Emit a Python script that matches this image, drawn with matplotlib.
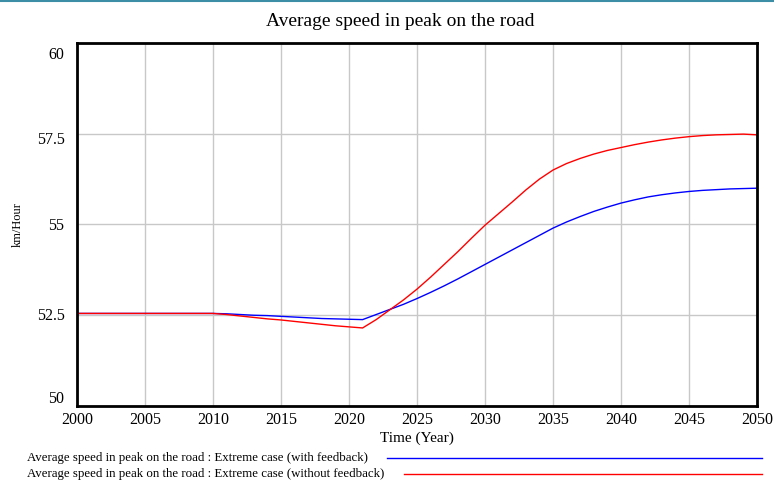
import matplotlib
matplotlib.use("Agg")
import matplotlib.pyplot as plt
from matplotlib.lines import Line2D
from matplotlib.transforms import ScaledTranslation

years = list(range(2000, 2051))
with_feedback = [52.55]*11 + [
    52.54, 52.52, 52.50, 52.49, 52.47, 52.45, 52.43, 52.41, 52.40, 52.39, 52.38,
    52.52, 52.66, 52.80, 52.96, 53.13, 53.31, 53.50, 53.70, 53.90,
    54.10, 54.30, 54.50, 54.70, 54.90, 55.07, 55.22, 55.36, 55.48, 55.59,
    55.68, 55.76, 55.82, 55.87, 55.91, 55.94, 55.96, 55.98, 55.99, 56.00]
without_feedback = [52.55]*11 + [
    52.52, 52.48, 52.44, 52.40, 52.37, 52.33, 52.29, 52.25, 52.21, 52.18, 52.15,
    52.38, 52.65, 52.92, 53.22, 53.55, 53.90, 54.25, 54.62, 54.98,
    55.30, 55.62, 55.95, 56.25, 56.50, 56.68, 56.82, 56.94, 57.04, 57.12,
    57.20, 57.27, 57.33, 57.38, 57.42, 57.45, 57.47, 57.48, 57.49, 57.47]

x_ticks = list(range(2000, 2051, 5))
y_ticks = [50, 52.5, 55, 57.5, 60]
y_tick_labels = ["50", "52.5", "55", "57.5", "60"]

title = "Average speed in peak on the road"
label_with = "Average speed in peak on the road : Extreme case (with feedback)"
label_without = "Average speed in peak on the road : Extreme case (without feedback)"

plt.rcParams['font.family'] = ['Liberation Serif', 'DejaVu Serif']

W, H = 774, 483
fig = plt.figure(figsize=(W/100, H/100), dpi=100)
ax = fig.add_axes([77/W, 1-406/H, 680/W, 363/H])

ax.plot(years, with_feedback, color='#0000ff', lw=1.0)
ax.plot(years, without_feedback, color='#ff0000', lw=1.0)

ax.set_xlim(2000, 2050)
ax.set_ylim(50, 60)
ax.set_xticks(x_ticks)
ax.set_yticks(y_ticks)
ax.set_yticklabels(y_tick_labels)
ax.tick_params(length=0, labelsize=11.5)
ax.tick_params(axis='y', pad=9)
ax.tick_params(axis='x', pad=4)
ax.grid(True, color='#c8c8c8', lw=1.0)
for s in ax.spines.values():
    s.set_linewidth(2)
    s.set_color('black')

# Vensim-style label placement: end labels pulled inward
y_offsets_px = [9, 1, 0, -4, -10]
for lab, dy in zip(ax.get_yticklabels(), y_offsets_px):
    lab.set_transform(lab.get_transform() + ScaledTranslation(0, dy/100, fig.dpi_scale_trans))

fig.text(400/W, 1-21/H, title, ha='center', va='center', fontsize=14)
fig.text(417/W, 1-438/H, "Time (Year)", ha='center', va='center', fontsize=11)
fig.text(18/W, 1-225/H, "km/Hour", ha='center', va='center', rotation=90, fontsize=9)

fig.text(27/W, 1-458/H, label_with, ha='left', va='center', fontsize=9.3)
fig.text(27/W, 1-474/H, label_without, ha='left', va='center', fontsize=9.3)
fig.add_artist(Line2D([387/W, 762/W], [1-458/H, 1-458/H], color='#0000ff', lw=1.0, transform=fig.transFigure))
fig.add_artist(Line2D([404/W, 762/W], [1-474/H, 1-474/H], color='#ff0000', lw=1.0, transform=fig.transFigure))
fig.add_artist(Line2D([0, 1], [1-0.5/H, 1-0.5/H], color='#3b8ea5', lw=1.5, transform=fig.transFigure))

fig.savefig("out.png", dpi=100)
